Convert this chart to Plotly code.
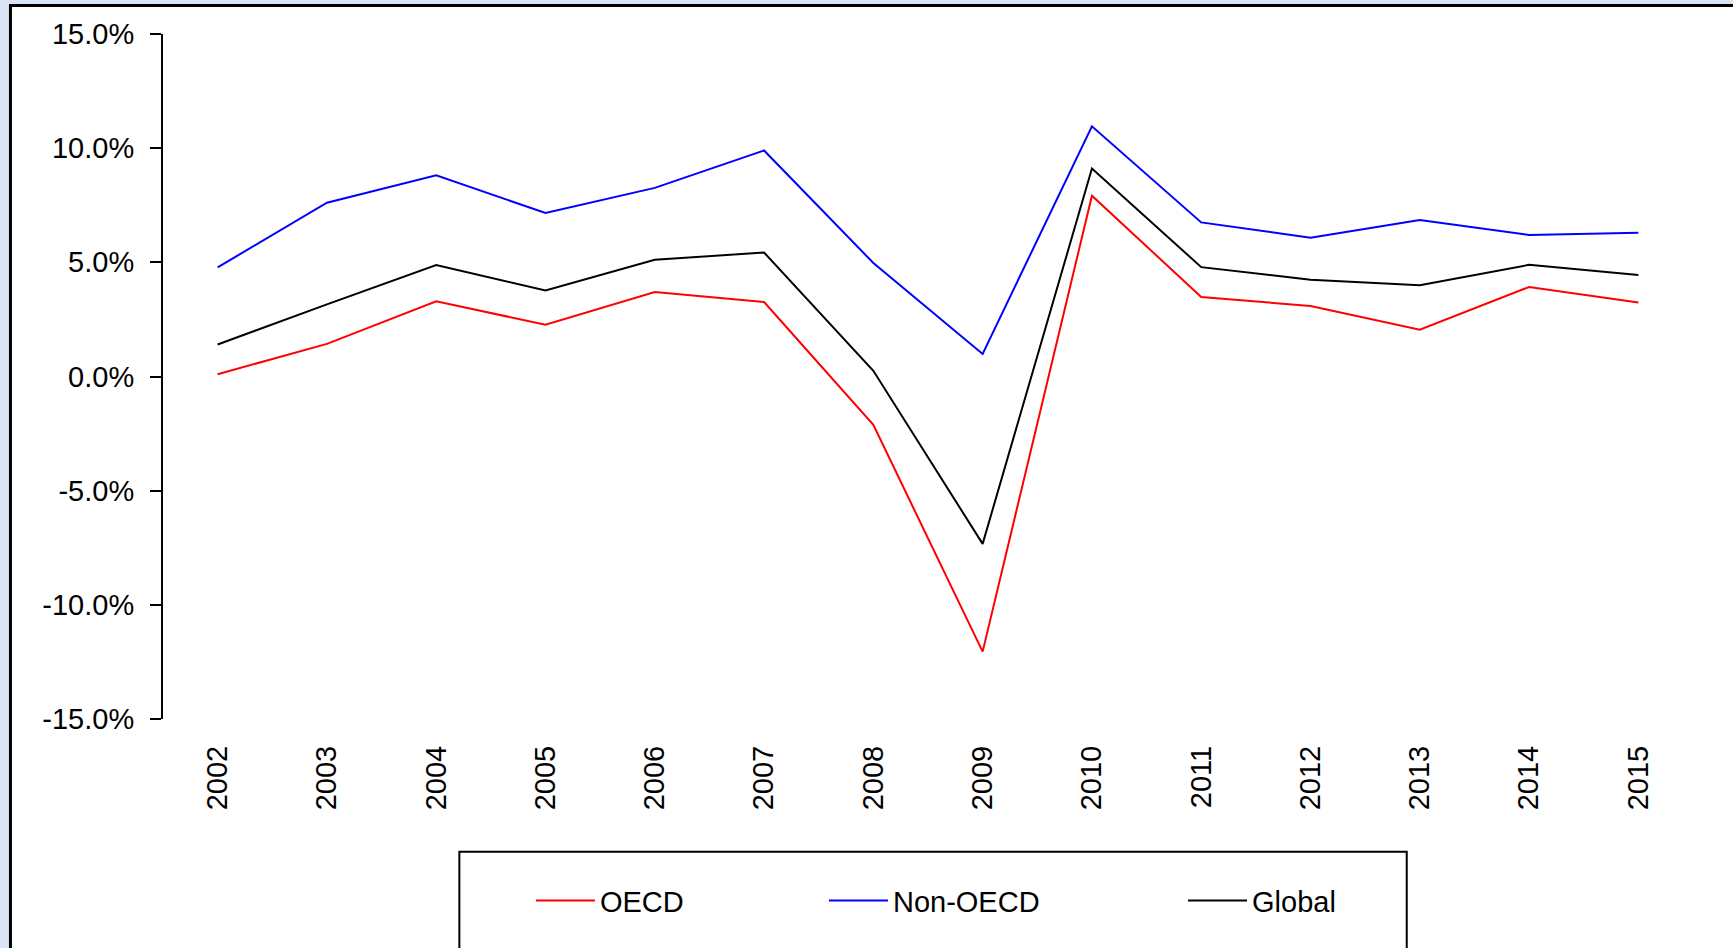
import plotly.graph_objects as go

# Annual growth rates (%), 2002-2015
years = ["2002", "2003", "2004", "2005", "2006", "2007", "2008",
         "2009", "2010", "2011", "2012", "2013", "2014", "2015"]
oecd = [0.1, 1.43, 3.29, 2.27, 3.70, 3.26, -2.12,
        -12.05, 7.92, 3.48, 3.09, 2.05, 3.92, 3.24]
non_oecd = [4.78, 7.61, 8.81, 7.16, 8.26, 9.90, 4.97,
            0.99, 10.96, 6.75, 6.08, 6.85, 6.20, 6.30]
global_ = [1.40, 3.16, 4.88, 3.77, 5.11, 5.43, 0.25,
           -7.33, 9.11, 4.79, 4.24, 4.00, 4.89, 4.44]

# y-axis ticks, written with a plain hyphen for negatives
y_ticks = [-15, -10, -5, 0, 5, 10, 15]
y_tick_labels = ["-15.0%", "-10.0%", "-5.0%", "0.0%", "5.0%", "10.0%", "15.0%"]

FONT = "Liberation Sans, Arial, sans-serif"
FS = 29

fig = go.Figure()
fig.add_trace(go.Scatter(x=years, y=oecd, name="OECD", mode="lines",
                         line=dict(color="#ff0000", width=2), legend="legend"))
fig.add_trace(go.Scatter(x=years, y=non_oecd, name="Non-OECD", mode="lines",
                         line=dict(color="#0000ff", width=2), legend="legend2"))
fig.add_trace(go.Scatter(x=years, y=global_, name="Global", mode="lines",
                         line=dict(color="#000000", width=2), legend="legend3"))

n = len(years)
leg_common = dict(orientation="h", yanchor="middle", xanchor="left",
                  bgcolor="rgba(0,0,0,0)", borderwidth=0, itemwidth=59,
                  font=dict(family=FONT, size=FS, color="black"))

fig.update_layout(
    width=1733, height=948,
    margin=dict(l=163, r=40, t=34, b=229),
    paper_bgcolor="#d9e5f4",
    plot_bgcolor="white",
    font=dict(family=FONT, size=FS, color="black"),
    xaxis=dict(type="category", range=[-0.5, n - 0.5], showline=False,
               showgrid=False, zeroline=False, ticks="", tickangle=-90,
               ticklabelstandoff=20),
    # zero line carrying the category-boundary ticks
    xaxis2=dict(overlaying="x", anchor="free", position=0.5,
                range=[-0.5, n - 0.5], tickmode="linear", tick0=-0.5, dtick=1,
                ticks="outside", ticklen=11, tickwidth=2, tickcolor="black",
                showline=True, linewidth=2, linecolor="black",
                showticklabels=False, showgrid=False, zeroline=False),
    yaxis=dict(range=[y_ticks[0], y_ticks[-1]], tickmode="array",
               tickvals=y_ticks, ticktext=y_tick_labels,
               ticks="outside", ticklen=11,
               tickwidth=2, tickcolor="black", showline=True, linewidth=2,
               linecolor="black", showgrid=False, zeroline=False,
               ticklabelstandoff=10),
    showlegend=True,
    legend=dict(x=0.2405, y=-0.2653, **leg_common),
    legend2=dict(x=0.4320, y=-0.2653, **leg_common),
    legend3=dict(x=0.6667, y=-0.2653, **leg_common),
    shapes=[
        # white chart frame
        dict(type="rect", xref="paper", yref="paper", layer="below",
             x0=-0.0997, x1=1.1, y0=-0.4, y1=1.0416,
             fillcolor="white", line=dict(color="black", width=3)),
        # legend box
        dict(type="rect", xref="paper", yref="paper", layer="below",
             x0=0.1937, x1=0.8129, y0=-0.4, y1=-0.1937,
             fillcolor="white", line=dict(color="black", width=2)),
    ],
)

fig.write_html("out.html")
